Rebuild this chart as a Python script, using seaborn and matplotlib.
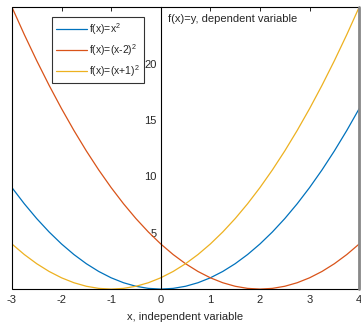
import pandas as pd
import matplotlib
matplotlib.use("Agg")
import matplotlib.pyplot as plt
import seaborn as sns
from matplotlib.patches import Rectangle

sns.set_style("white")
plt.rcParams['font.family'] = ['Liberation Sans', 'DejaVu Sans']
plt.rcParams['mathtext.default'] = 'regular'
plt.rcParams['axes.unicode_minus'] = False

# x values and the three curves
x_vals = [-3, -2.75, -2.5, -2.25, -2, -1.75, -1.5, -1.25, -1, -0.75, -0.5, -0.25, 0,
          0.25, 0.5, 0.75, 1, 1.25, 1.5, 1.75, 2, 2.25, 2.5, 2.75, 3, 3.25, 3.5, 3.75, 4]
y_sq = [9, 7.5625, 6.25, 5.0625, 4, 3.0625, 2.25, 1.5625, 1, 0.5625, 0.25, 0.0625, 0,
        0.0625, 0.25, 0.5625, 1, 1.5625, 2.25, 3.0625, 4, 5.0625, 6.25, 7.5625, 9,
        10.5625, 12.25, 14.0625, 16]
y_minus2 = [25, 22.5625, 20.25, 18.0625, 16, 14.0625, 12.25, 10.5625, 9, 7.5625, 6.25,
            5.0625, 4, 3.0625, 2.25, 1.5625, 1, 0.5625, 0.25, 0.0625, 0, 0.0625, 0.25,
            0.5625, 1, 1.5625, 2.25, 3.0625, 4]
y_plus1 = [4, 3.0625, 2.25, 1.5625, 1, 0.5625, 0.25, 0.0625, 0, 0.0625, 0.25, 0.5625, 1,
           1.5625, 2.25, 3.0625, 4, 5.0625, 6.25, 7.5625, 9, 10.5625, 12.25, 14.0625, 16,
           18.0625, 20.25, 22.5625, 25]
labels = ['f(x)=x$^2$', 'f(x)=(x-2)$^2$', 'f(x)=(x+1)$^2$']
colors = ['#0072BD', '#D95319', '#EDB120']
x_ticks = [-3, -2, -1, 0, 1, 2, 3, 4]
y_ticks = [5, 10, 15, 20]

df = pd.concat([
    pd.DataFrame({'x': x_vals, 'y': y_sq, 'f': labels[0]}),
    pd.DataFrame({'x': x_vals, 'y': y_minus2, 'f': labels[1]}),
    pd.DataFrame({'x': x_vals, 'y': y_plus1, 'f': labels[2]}),
])

fig = plt.figure(figsize=(3.61, 3.23), dpi=100)
ax = fig.add_axes([0.033, 0.105, 0.962, 0.873])
sns.lineplot(data=df, x='x', y='y', hue='f', palette=colors, linewidth=0.9, ax=ax)

ax.set_xlim(-3, 4)
ax.set_ylim(0, 25)
ax.set_xticks(x_ticks)
ax.set_xticklabels([str(t) for t in x_ticks])
ax.set_yticks(y_ticks)

# y axis through the origin, box drawn around the plot area
ax.spines['left'].set_position(('data', 0))
ax.spines['right'].set_visible(False)
ax.spines['top'].set_visible(False)
ax.spines['bottom'].set_visible(False)
ax.spines['left'].set_linewidth(0.8)
ax.spines['left'].set_color('black')
ax.add_patch(Rectangle((0, 0), 1, 1, transform=ax.transAxes, fill=False,
                       edgecolor='black', linewidth=0.8, clip_on=False, zorder=5))
ax.plot([1, 1], [0, 1], transform=ax.transAxes, color='#888888', lw=2, clip_on=False, zorder=6)

ax.tick_params(axis='x', direction='in', top=True, length=3, width=0.6,
               labelsize=8, pad=4, colors='black', labelcolor='#262626')
ax.tick_params(axis='y', direction='in', length=3, width=0.6,
               labelsize=8, pad=3, labelcolor='#262626')

ax.set_xlabel('x, independent variable', fontsize=8, color='#262626', labelpad=5)
ax.set_ylabel('')
ax.text(0.45, 0.975, 'f(x)=y, dependent variable', transform=ax.transAxes,
        fontsize=8, color='#262626', va='top', ha='left')

leg = ax.legend(loc='upper left', bbox_to_anchor=(0.115, 0.965), borderaxespad=0,
                fontsize=7.5, frameon=True, fancybox=False, handlelength=3.0,
                handletextpad=0.2, labelspacing=0.5, borderpad=0.4, title=None)
leg.get_frame().set_edgecolor('black')
leg.get_frame().set_linewidth(0.8)

fig.savefig('out.png', dpi=100)
